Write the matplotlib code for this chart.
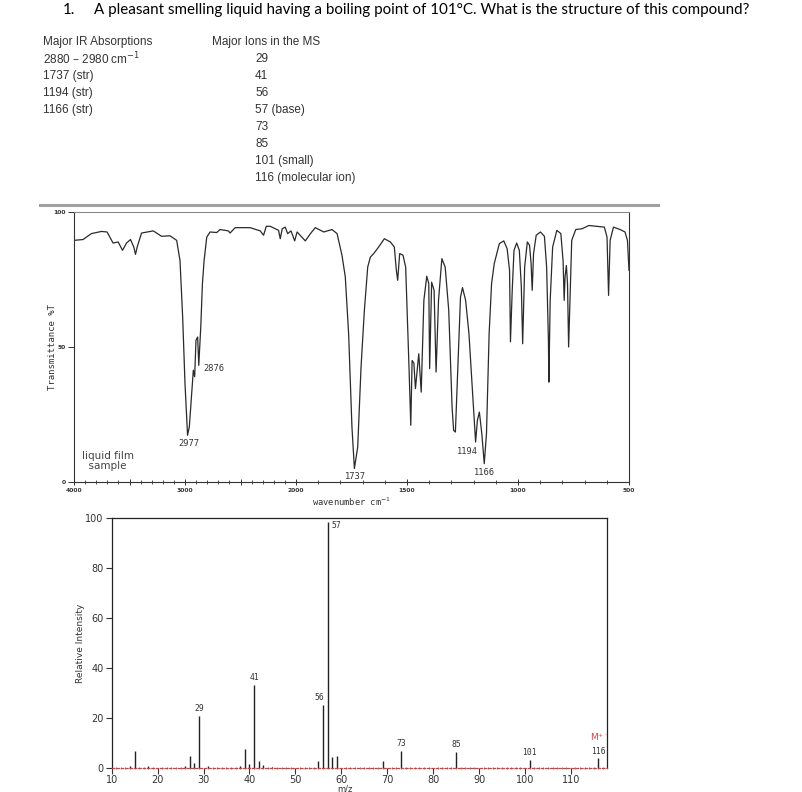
import numpy as np
import matplotlib
matplotlib.use('Agg')
import matplotlib.pyplot as plt

W, H = 802, 792

# question text
title_num = '1.'
title_text = 'A pleasant smelling liquid having a boiling point of 101°C. What is the structure of this compound?'
ir_list = ['Major IR Absorptions', '2880 – 2980 cm$^{-1}$', '1737 (str)', '1194 (str)', '1166 (str)']
ms_header = 'Major Ions in the MS'
ms_list = ['29', '41', '56', '57 (base)', '73', '85', '101 (small)', '116 (molecular ion)']

# IR trace: wavenumber (cm-1) and %T
ir_wn = [4000, 3919, 3843, 3753, 3702, 3648, 3602, 3563, 3527, 3491, 3461, 3446, 3431, 3392,
         3286, 3211, 3136, 3075, 3045, 3021, 3000, 2977, 2961, 2940, 2925, 2913, 2901, 2886,
         2876, 2858, 2843, 2828, 2804, 2774, 2714, 2684, 2609, 2594, 2548, 2413, 2322, 2292,
         2268, 2232, 2157, 2142, 2124, 2097, 2075, 2045, 2036, 2012, 1995, 1977, 1958, 1935,
         1913, 1875, 1838, 1815, 1793, 1778, 1763, 1748, 1737, 1722, 1707, 1692, 1677, 1665,
         1650, 1628, 1602, 1575, 1557, 1548, 1542, 1533, 1518, 1506, 1491, 1483, 1477, 1469,
         1462, 1447, 1436, 1424, 1411, 1402, 1398, 1389, 1378, 1369, 1358, 1343, 1328, 1312,
         1297, 1290, 1282, 1271, 1259, 1250, 1236, 1221, 1206, 1191, 1183, 1174, 1163, 1152,
         1142, 1130, 1119, 1107, 1084, 1064, 1049, 1038, 1034, 1026, 1018, 1006, 994, 985,
         979, 970, 958, 948, 941, 936, 930, 918, 899, 881, 871, 863, 861, 855, 844, 825,
         807, 797, 792, 788, 782, 777, 772, 766, 758, 740, 711, 681, 644, 611, 599, 592,
         585, 570, 540, 518, 507, 500]
ir_t = [89.5, 89.8, 92.0, 92.8, 92.6, 88.5, 88.9, 85.8, 88.5, 89.8, 87.0, 84.3, 87.0, 92.2,
        93.0, 91.0, 91.2, 89.5, 82.0, 61.0, 36.4, 17.3, 20.4, 32.7, 41.4, 39.0, 52.5, 53.7,
        43.2, 57.4, 73.5, 82.0, 90.7, 92.6, 92.4, 93.5, 93.0, 92.2, 94.2, 94.2, 93.0, 91.4,
        94.7, 94.7, 93.2, 90.1, 93.8, 94.4, 92.0, 93.0, 92.0, 89.3, 92.6, 91.0, 89.3, 92.0,
        94.2, 92.6, 93.5, 92.0, 84.0, 76.0, 55.0, 20.4, 5.0, 13.0, 42.6, 63.6, 79.6, 83.3,
        84.6, 87.0, 90.1, 88.9, 87.0, 78.4, 74.7, 84.6, 84.0, 79.6, 42.6, 21.0, 45.0, 44.0,
        34.6, 47.5, 33.3, 67.3, 76.2, 73.5, 42.0, 74.0, 71.0, 40.7, 67.3, 82.7, 79.6, 63.6,
        27.8, 19.1, 18.5, 42.6, 68.5, 72.0, 67.3, 55.0, 35.0, 14.8, 22.8, 25.9, 17.9, 6.8,
        17.9, 55.0, 73.5, 80.9, 88.3, 89.3, 86.4, 78.4, 51.9, 71.0, 85.8, 88.5, 85.8, 72.2,
        51.2, 79.6, 88.9, 87.7, 80.9, 71.0, 84.6, 91.4, 92.6, 91.0, 79.6, 52.5, 37.0, 67.3,
        87.0, 93.2, 92.0, 82.0, 67.3, 76.0, 80.2, 73.5, 50.0, 67.3, 89.5, 93.5, 93.8, 95.0,
        94.7, 94.4, 90.7, 69.1, 89.5, 94.4, 93.5, 92.6, 89.5, 78.4]
ir_peak_text = ['2977', '2876', '1737', '1194', '1166']
ir_peak_wn = [2977, 2876, 1737, 1191, 1152]
ir_tick_wn = [4000, 3500, 3000, 2500, 2000, 1500, 1000, 500]
ir_tick_text = ['4000', '', '3000', '', '2000', '1500', '1000', '500']

# mass spectrum
ms_mz = [14, 15, 18, 26, 27, 28, 29, 31, 38, 39, 40, 41, 42, 43, 45, 55, 56, 57, 58, 59,
         69, 73, 85, 101, 116]
ms_int = [0.5, 6.8, 0.7, 0.6, 4.7, 1.7, 20.9, 0.7, 0.5, 7.4, 1.5, 33.2, 2.5, 1.1, 0.4, 2.7,
          25.1, 98.7, 4.4, 4.7, 2.8, 6.8, 6.3, 3.1, 3.7]
ms_labelled = [29, 41, 56, 57, 73, 85, 101, 116]


def fx(x):
    return x / W


def fy(y):
    return 1 - y / H


def rect(x0, y0, x1, y1):
    return [x0 / W, 1 - y1 / H, (x1 - x0) / W, (y1 - y0) / H]


fig = plt.figure(figsize=(W / 100, H / 100), dpi=100)

# ---- question text ----
fig.text(fx(63), fy(10), title_num, fontsize=10.9, family='Lato', va='center')
fig.text(fx(94), fy(10), title_text, fontsize=10.9, family='Lato', va='center')

row_y = 42
row_step = 17.0
for i, s in enumerate(ir_list):
    fig.text(fx(43), fy(row_y + i * row_step), s, fontsize=8.5, family='Liberation Sans',
             color='#333333', va='center')
fig.text(fx(212), fy(row_y), ms_header, fontsize=8.5, family='Liberation Sans',
         color='#333333', va='center')
for i, s in enumerate(ms_list):
    fig.text(fx(255), fy(row_y + (i + 1) * row_step), s, fontsize=8.5, family='Liberation Sans',
             color='#333333', va='center')

# grey separator above the IR chart
fig.add_artist(plt.Line2D([fx(40), fx(658)], [fy(205), fy(205)], color='#a0a0a0', lw=2.2))

# ---- IR spectrum ----
def fwd(w):
    w = np.asarray(w, dtype=float)
    return np.where(w >= 2000, 2000 + (w - 2000) / 2, w)


def inv(p):
    p = np.asarray(p, dtype=float)
    return np.where(p >= 2000, 2000 + (p - 2000) * 2, p)


ax = fig.add_axes(rect(74, 212, 629, 482))
ax.set_xscale('function', functions=(fwd, inv))
ax.set_xlim(4000, 500)
ax.set_ylim(0, 100)
ax.plot(ir_wn, ir_t, color='#2a2a2a', lw=0.9)

for sp in ax.spines.values():
    sp.set_color('#333333')
    sp.set_linewidth(0.8)
ax.spines['top'].set_color('#8a8a8a')

ax.set_xticks(ir_tick_wn)
ax.set_xticklabels(ir_tick_text)
ax.set_xticks(np.arange(500, 4001, 100), minor=True)
ax.set_yticks([0, 50, 100])
ax.set_yticklabels(['0', '50', '100'])
ax.tick_params(axis='x', which='major', direction='inout', length=5, width=0.7,
               labelsize=4.3, pad=2, colors='#333333')
ax.tick_params(axis='x', which='minor', direction='inout', length=2.5, width=0.6, colors='#333333')
ax.tick_params(axis='y', direction='out', length=4, width=0.7, labelsize=4.3, pad=2,
               colors='#333333')
for lab in ax.get_xticklabels() + ax.get_yticklabels():
    lab.set_fontweight('bold')

ax.set_ylabel('Transmittance %T', family='DejaVu Sans Mono', fontsize=6.5, color='#333333')
ax.yaxis.set_label_coords(-0.031, 0.5)
ax.set_xlabel('wavenumber cm$^{-1}$', family='DejaVu Sans Mono', fontsize=6.3,
              color='#333333', labelpad=2)

# offsets of the peak labels (points) and their alignment
lab_off = [(1, -3), (3, -2), (1, -2.5), (-6, -3.5), (0, -3)]
lab_ha = ['center', 'left', 'center', 'center', 'center']
lab_va = ['top', 'center', 'top', 'top', 'top']
for txt, wn, off, ha, va in zip(ir_peak_text, ir_peak_wn, lab_off, lab_ha, lab_va):
    t_min = np.interp(wn, ir_wn[::-1], ir_t[::-1])
    ax.annotate(txt, (wn, t_min), xytext=off, textcoords='offset points', ha=ha, va=va,
                fontsize=6.3, family='DejaVu Sans Mono', color='#333333')

ax.text(3928, 7.8, 'liquid film\n  sample', fontsize=7.5, family='DejaVu Sans',
        color='#444444', va='center', ha='left', linespacing=1.1)

# ---- mass spectrum ----
ax2 = fig.add_axes(rect(111.7, 518.3, 606.7, 767.7))
ax2.set_xlim(10, 117.8)
ax2.set_ylim(0, 100)
ax2.vlines(ms_mz, 0, ms_int, color='#222222', lw=1.0)

for sp in ax2.spines.values():
    sp.set_color('#222222')
    sp.set_linewidth(0.9)
ax2.spines['bottom'].set_color('#b84a4a')
ax2.spines['bottom'].set_linestyle((0, (2, 1.5)))

ax2.set_xticks(np.arange(10, 111, 10))
ax2.set_xticks(np.arange(10, 118, 1), minor=True)
ax2.set_yticks(np.arange(0, 101, 20))
ax2.tick_params(axis='x', which='major', direction='out', length=4, width=0.8,
                labelsize=7, pad=1.2, colors='#333333')
ax2.tick_params(axis='x', which='minor', direction='inout', length=2, width=0.5,
                colors='#555555')
ax2.tick_params(axis='y', direction='out', length=4, width=0.8, labelsize=7, pad=2,
                colors='#333333')
ax2.set_ylabel('Relative Intensity', fontsize=6.5, color='#333333', labelpad=0)
ax2.set_xlabel('m/z', fontsize=6, color='#333333')
ax2.xaxis.set_label_coords((60.9 - 10) / (117.8 - 10), -0.067)

ms_off = {56: (1, 2, 'right', 'bottom'), 57: (3, -3, 'left', 'center')}
for mz in ms_labelled:
    val = ms_int[ms_mz.index(mz)]
    dx, dy, ha, va = ms_off.get(mz, (0, 2, 'center', 'bottom'))
    ax2.annotate(str(mz), (mz, val), xytext=(dx, dy), textcoords='offset points',
                 ha=ha, va=va, fontsize=5.8, family='DejaVu Sans Mono', color='#333333')
ax2.annotate('M$^{+\\cdot}$', (116, ms_int[ms_mz.index(116)]), xytext=(0, 11),
             textcoords='offset points', ha='center', va='bottom', fontsize=6.5,
             color='#d04545')

fig.savefig('out.png', dpi=100)
